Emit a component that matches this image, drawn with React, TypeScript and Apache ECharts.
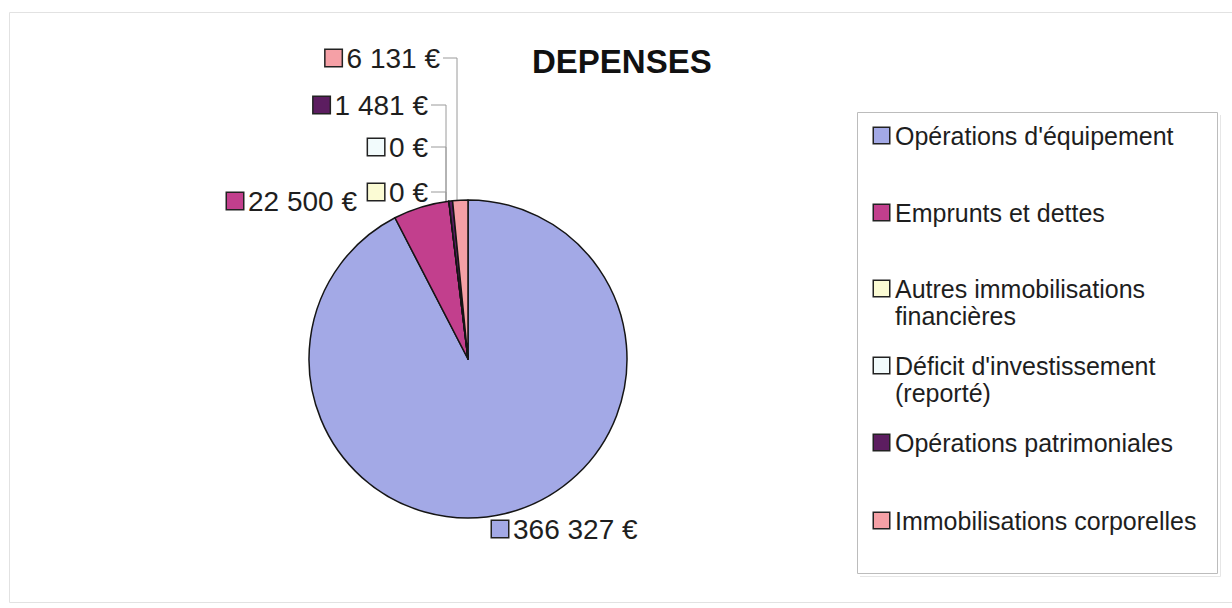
import React, { useEffect, useRef } from 'react';
import * as echarts from 'echarts';

const title = 'DEPENSES';
const categories = [
  "Opérations d'équipement",
  'Emprunts et dettes',
  'Autres immobilisations financières',
  "Déficit d'investissement (reporté)",
  'Opérations patrimoniales',
  'Immobilisations corporelles',
];
const legendLabels = [
  "Opérations d'équipement",
  'Emprunts et dettes',
  'Autres immobilisations\nfinancières',
  "Déficit d'investissement\n(reporté)",
  'Opérations patrimoniales',
  'Immobilisations corporelles',
];
const values = [366327, 22500, 0, 0, 1481, 6131];
const colors = ['#a3a9e6', '#c23f8d', '#fbfbd4', '#f2fbfc', '#5c1d60', '#f5a0a6'];

// layout (label anchors, leader lines, legend rows)
const labelAnchors: [number, number, string][] = [
  [492, 529, 'left'],
  [357, 201, 'right'],
  [428, 192, 'right'],
  [428, 147, 'right'],
  [428, 105, 'right'],
  [440, 58, 'right'],
];
const leaderLines: (number[][] | null)[] = [
  null,
  null,
  [[431, 192], [446, 192], [446, 205]],
  [[431, 147], [446, 147], [446, 205]],
  [[431, 105], [446, 105], [446, 205]],
  [[443, 58], [457, 58], [457, 204]],
];
const legendTops = [123, 200, 276, 353, 430, 508];

const FONT = '"Liberation Sans", Arial, Helvetica, sans-serif';

function fmt(v: number) {
  return String(v).replace(/\B(?=(\d{3})+(?!\d))/g, ' ') + ' €';
}

export default function App() {
  const ref = useRef<HTMLDivElement>(null);
  useEffect(() => {
    document.body.style.margin = '0';
    const chart = echarts.init(ref.current!, null, { renderer: 'svg' });

    const labelRich: any = {
      v: { fontSize: 28, fontFamily: FONT, color: '#1e1e1e', padding: [0, 0, 0, 5] },
    };
    colors.forEach((c, i) => {
      labelRich['sq' + i] = {
        width: 16,
        height: 16,
        backgroundColor: c,
        borderColor: '#222',
        borderWidth: 1.5,
      };
    });

    const legends = categories.map((name, i) => {
      const rich: any = {
        sq: { width: 15, height: 15, backgroundColor: colors[i], borderColor: '#222', borderWidth: 1.5 },
        t: { fontSize: 25, fontFamily: FONT, color: '#1e1e1e', lineHeight: 27, padding: [0, 0, 0, 6] },
        ind: { width: 15, height: 15 },
      };
      return {
        data: [name],
        left: 868,
        top: legendTops[i],
        padding: 0,
        itemWidth: 0,
        itemHeight: 0,
        selectedMode: false,
        textStyle: { rich },
        formatter: () => {
          const lines = legendLabels[i].split('\n');
          let s = `{sq|}{t|${lines[0]}}`;
          if (lines[1]) s += `\n{ind|}{t|${lines[1]}}`;
          return s;
        },
      };
    });

    chart.setOption({
      animation: false,
      backgroundColor: '#ffffff',
      title: {
        text: title,
        left: 532,
        top: 45,
        padding: 0,
        textStyle: { fontSize: 33, fontWeight: 'bold', fontFamily: FONT, color: '#111' },
      },
      legend: legends,
      graphic: [
        {
          type: 'rect',
          shape: { x: 9.5, y: 12.5, width: 1240, height: 590 },
          style: { fill: 'none', stroke: '#e2e2e2', lineWidth: 1 },
          silent: true,
        },
        {
          type: 'rect',
          shape: { x: 857.5, y: 112.5, width: 360, height: 461 },
          style: { fill: 'none', stroke: '#bcbcbc', lineWidth: 1 },
          silent: true,
        },
        {
          type: 'polyline',
          shape: { points: [[860, 576.5], [1220.5, 576.5], [1220.5, 115]] },
          style: { fill: 'none', stroke: '#e6e6e6', lineWidth: 1 },
          silent: true,
        },
      ],
      series: [
        {
          type: 'pie',
          center: [468, 359],
          radius: 159,
          startAngle: 90,
          clockwise: true,
          avoidLabelOverlap: false,
          itemStyle: { borderColor: '#151515', borderWidth: 1.5 },
          label: {
            show: true,
            position: 'outside',
            formatter: (p: any) => `{sq${p.dataIndex}|}{v|${fmt(p.value)}}`,
            rich: labelRich,
          },
          labelLine: { show: true, lineStyle: { color: '#9a9a9a', width: 1 } },
          labelLayout: (p: any) => {
            const i = p.dataIndex;
            const a = labelAnchors[i];
            const out: any = { x: a[0], y: a[1], align: a[2], verticalAlign: 'middle' };
            if (leaderLines[i]) out.labelLinePoints = leaderLines[i];
            return out;
          },
          data: categories.map((name, i) => ({
            name,
            value: values[i],
            itemStyle: { color: colors[i] },
            labelLine: { show: leaderLines[i] != null },
          })),
          emphasis: { disabled: true },
        },
      ],
    });
    return () => chart.dispose();
  }, []);
  return <div ref={ref} style={{ width: 1232, height: 608 }} />;
}
